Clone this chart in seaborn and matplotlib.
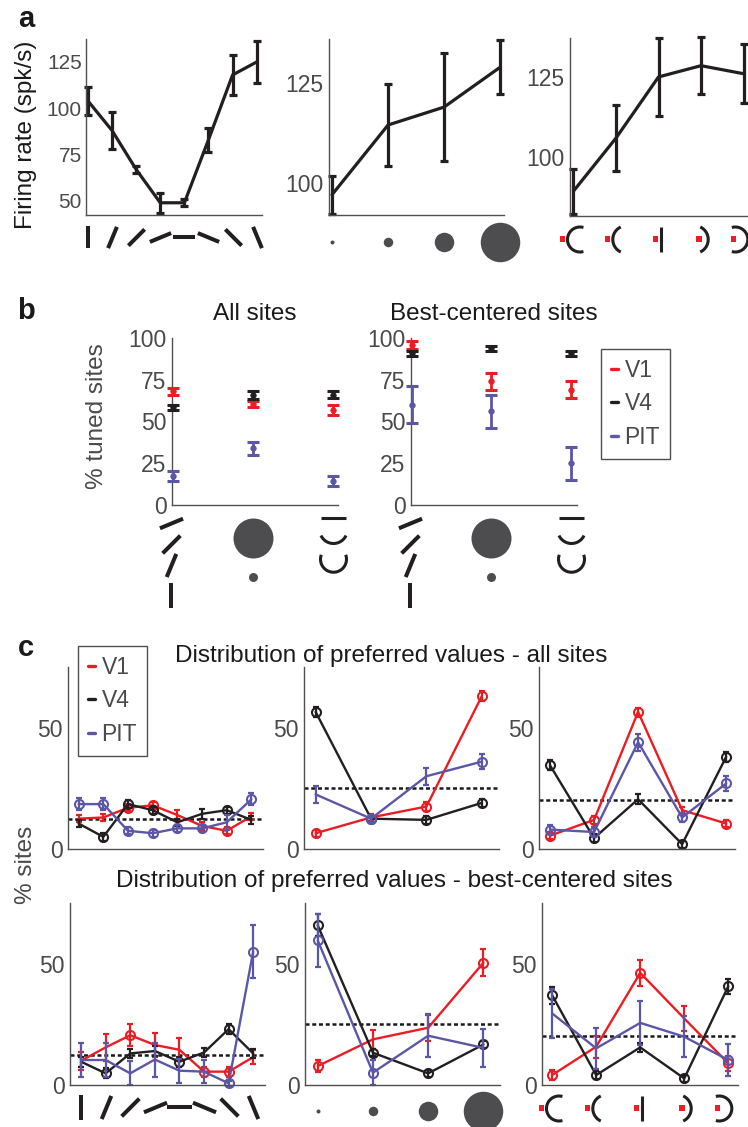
import numpy as np
import pandas as pd
import seaborn as sns
import matplotlib
matplotlib.use("Agg")
import matplotlib.pyplot as plt
from matplotlib.path import Path
from matplotlib.lines import Line2D
import matplotlib.transforms as mtrans

# ---------------- DATA ----------------
regions = ["V1", "V4", "PIT"]
region_colors = ["#ec1c24", "#231f20", "#5b56a6"]

# panel a : example site, firing rate (spk/s) +- error
a_orient_rate = [104, 88, 67, 49, 49, 83, 118, 125]
a_orient_err = [7.5, 10, 2, 5.5, 2, 6.5, 11, 11.5]
a_size_rate = [97, 114.5, 119, 129]
a_size_err = [4.8, 10.4, 13.6, 6.8]
a_curv_rate = [89.5, 106, 125, 128.5, 126]
a_curv_err = [7, 10.3, 12, 8.8, 9.2]

# panel b : % tuned sites for orientation, size, curvature
b_all = {"V1": [68, 60.5, 57], "V4": [58.5, 66, 66], "PIT": [17.5, 34, 14.5]}
b_all_err = {"V1": [2, 2, 3], "V4": [1.5, 2.5, 2], "PIT": [3, 4, 3]}
b_best = {"V1": [96, 74, 69], "V4": [91, 94, 91], "PIT": [60, 56, 25]}
b_best_err = {"V1": [2.5, 5, 5], "V4": [1.5, 1.5, 1.5], "PIT": [11, 10, 10]}

# panel c : distribution of preferred values (% sites), all sites
c_all_orient = {"V1": [12.5, 13, 17, 18, 14, 9.5, 7.5, 13.5],
                "V4": [10.5, 5, 18.5, 16, 11, 14.5, 16, 12],
                "PIT": [18.5, 18.5, 7.5, 6.5, 8.5, 8.5, 11, 20.5]}
c_all_orient_err = {"V1": [1.5, 1.5, 1.5, 1.5, 2, 1.5, 1.5, 1.5],
                    "V4": [1.5, 1.5, 1.5, 1.5, 1.5, 2, 1.5, 1.5],
                    "PIT": [2.5, 2.5, 1.5, 1.5, 1.5, 1.5, 3, 2.5]}
c_all_orient_sig = {"V1": [0, 0, 1, 1, 0, 0, 1, 0],
                    "V4": [0, 1, 1, 1, 0, 0, 1, 0],
                    "PIT": [1, 1, 1, 1, 1, 1, 0, 1]}
c_all_size = {"V1": [6.5, 13, 17.5, 63], "V4": [56.5, 12.5, 12, 19], "PIT": [22.5, 12.5, 30, 36]}
c_all_size_err = {"V1": [1.5, 1.5, 2, 2], "V4": [2, 1.5, 1.5, 1.5], "PIT": [3.5, 1.5, 3.5, 3]}
c_all_size_sig = {"V1": [1, 0, 1, 1], "V4": [1, 1, 1, 1], "PIT": [0, 1, 0, 1]}
c_all_curv = {"V1": [5.5, 12, 56.5, 16, 10.5], "V4": [34.5, 4.5, 20.5, 2, 38], "PIT": [8, 7, 44, 13, 27]}
c_all_curv_err = {"V1": [1.5, 1.5, 1.5, 1.5, 1.5], "V4": [2, 1.5, 2, 1.5, 2], "PIT": [2, 2, 3.5, 2, 3]}
c_all_curv_sig = {"V1": [1, 1, 1, 0, 1], "V4": [1, 1, 0, 1, 1], "PIT": [1, 1, 1, 1, 1]}

# panel c : best-centered sites
c_best_orient = {"V1": [10, 15.5, 20.5, 16.5, 14.5, 5.5, 5.5, 11.5],
                 "V4": [9.6, 4.8, 13, 14, 9.6, 13.4, 23, 13],
                 "PIT": [10.3, 10.3, 4.8, 10.5, 5.9, 5.5, 0.7, 55]}
c_best_orient_err = {"V1": [3.8, 5.5, 4.5, 4.8, 4.8, 2, 2, 3],
                     "V4": [2, 2, 2, 2, 2, 2, 2, 2],
                     "PIT": [7, 7, 5, 7, 5, 4.8, 1, 11]}
c_best_orient_sig = {"V1": [0, 0, 1, 0, 0, 1, 1, 0],
                     "V4": [0, 1, 0, 0, 1, 0, 1, 0],
                     "PIT": [0, 0, 0, 0, 0, 0, 1, 1]}
c_best_size = {"V1": [7.8, 18.8, 23.6, 50.4], "V4": [65.8, 13.3, 4.8, 16.7], "PIT": [59.6, 5.1, 20.3, 15.3]}
c_best_size_err = {"V1": [2.3, 3.8, 5.3, 5.5], "V4": [4.5, 1.5, 1.5, 1.5], "PIT": [11, 5, 8.8, 7.8]}
c_best_size_sig = {"V1": [1, 0, 0, 1], "V4": [1, 1, 1, 1], "PIT": [1, 1, 0, 0]}
c_best_curv = {"V1": [4.1, 15.8, 46.2, 27.4, 8.9], "V4": [37, 4.1, 15.5, 2.7, 40.7], "PIT": [29.5, 15.1, 25.6, 19.9, 10.3]}
c_best_curv_err = {"V1": [2, 4.5, 5.5, 5, 3], "V4": [3.5, 1.5, 2, 1.5, 3], "PIT": [10, 8.4, 9.2, 8.5, 6.7]}
c_best_curv_sig = {"V1": [1, 0, 1, 0, 1], "V4": [1, 1, 0, 1, 1], "PIT": [0, 0, 0, 0, 1]}

chance_levels = [12.5, 25, 20]   # % for 8, 4, 5 stimulus values

# stimulus icons (orientation angles in degrees, stimulus diameters in px)
orient_angles = [90, 67.5, 45, 22.5, 0, -22.5, -45, -67.5]
size_diams = [4, 9.5, 19.5, 39.5]

# ---------------- STYLE ----------------
sns.set_theme(style="white")
plt.rcParams["font.family"] = ["Liberation Sans", "DejaVu Sans"]
plt.rcParams["axes.unicode_minus"] = False

W, H = 748, 1127
fig = plt.figure(figsize=(W / 100, H / 100), dpi=100)
fig.patch.set_facecolor("white")
K = "#231f20"
GRAY = "#505050"
TXT = "#4a4a4a"
ICON_GRAY = "#4d4d4f"
TICK_FS = 16.5


def add_ax(l, t, r, b):
    ax = fig.add_axes([l / W, 1 - b / H, (r - l) / W, (b - t) / H])
    ax.set_facecolor("none")
    for s in ["top", "right"]:
        ax.spines[s].set_visible(False)
    for s in ["left", "bottom"]:
        ax.spines[s].set_color(GRAY)
        ax.spines[s].set_linewidth(1.0)
    ax.tick_params(direction="in", length=4, width=1, color=GRAY, labelcolor=TXT,
                   labelsize=TICK_FS, pad=4, labelbottom=False)
    return ax


def put(ax, x, dy, marker, size, **kw):
    tr = ax.get_xaxis_transform() + mtrans.ScaledTranslation(0, -dy / 100, fig.dpi_scale_trans)
    ax.plot([x], [0], ls="none", marker=marker, markersize=size * 0.72,
            transform=tr, clip_on=False, **kw)


def path_marker(pts_list, closed=False):
    verts, codes = [], []
    for p in pts_list:
        p = np.asarray(p, float)
        verts += [tuple(v) for v in p]
        codes += [Path.MOVETO] + [Path.LINETO] * (len(p) - 1)
        if closed:
            verts.append(tuple(p[0]))
            codes.append(Path.CLOSEPOLY)
    path = Path(np.array(verts), codes)
    return path, 2 * np.max(np.abs(path.vertices))


def bar_seg(angle, L, dx=0.0):
    t = np.deg2rad(angle)
    c, s = np.cos(t) * L / 2, np.sin(t) * L / 2
    return np.array([[-c + dx, -s], [c + dx, s]])


def arc_seg(R, theta_deg, bulge, n=40):
    th = np.deg2rad(theta_deg)
    phi = np.linspace(-th, th, n)
    if bulge == "left":
        x, y = -R * np.cos(phi), R * np.sin(phi)
    elif bulge == "right":
        x, y = R * np.cos(phi), R * np.sin(phi)
    else:  # cup opening upward
        x, y = R * np.sin(phi), -R * np.cos(phi)
    pts = np.column_stack([x, y])
    pts -= (pts.max(0) + pts.min(0)) / 2
    return pts


def orient_icons(ax, xs, dy, L):
    for x, ang in zip(xs, orient_angles):
        p, s = path_marker([bar_seg(ang, L)])
        put(ax, x, dy, p, s, mfc="none", mec=K, mew=2.9)


def size_icons(ax, xs, dy):
    for x, d in zip(xs, size_diams):
        put(ax, x, dy, "o", d, mfc=ICON_GRAY, mec="none", mew=0)


# curvature icons: (fixation dot dx, kind, bulge, R, theta, edge position)
CURV_ICONS = [(-10.3, "arc", "left", 12.5, 106, -6.0),
              (-8.5, "arc", "left", 13.8, 65, -3.7),
              (-3.7, "line", None, None, None, 2.0),
              (-2.0, "arc", "right", 13.8, 65, 6.7),
              (-10.3, "arc", "right", 12.5, 106, 3.3)]


def curv_icons(ax, xs, dy):
    for x, (ddx, kind, bulge, R, th, edge) in zip(xs, CURV_ICONS):
        if kind == "line":
            pts = np.array([[edge, -12.5], [edge, 12.5]])
        else:
            pts = arc_seg(R, th, bulge)
            if bulge == "left":
                pts[:, 0] += edge - pts[:, 0].min()
            else:
                pts[:, 0] += edge - pts[:, 0].max()
        p, s = path_marker([pts])
        put(ax, x, dy, p, s, mfc="none", mec=K, mew=2.2)
        sq = np.array([[ddx - 2.6, -2.6], [ddx + 2.6, -2.6], [ddx + 2.6, 2.6], [ddx - 2.6, 2.6]])
        p, s = path_marker([sq], closed=True)
        put(ax, x, dy, p, s, mfc="#ee1c25", mec="none", mew=0)


def tuning(ax, xs, rate, err):
    sns.lineplot(x=xs, y=rate, ax=ax, color=K, linewidth=2.3, legend=False)
    ax.errorbar(xs, rate, yerr=err, fmt="none", ecolor=K, elinewidth=2.3,
                capsize=2.9, capthick=2.3, clip_on=False)
    ax.set_xlabel("")
    ax.set_ylabel("")


# ---------------- PANEL a ----------------
x8 = np.arange(8)
x4 = np.arange(4)
x5 = np.arange(5)
x3 = np.arange(3)

a1 = add_ax(86, 39, 262, 215)
tuning(a1, x8, a_orient_rate, a_orient_err)
a1.set(xlim=(-0.08, 7.22), ylim=(42.4, 137.4), yticks=[50, 75, 100, 125], xticks=[1, 3, 5, 7])
a1.tick_params(labelsize=15, pad=3)
a1.set_ylabel("Firing rate (spk/s)", fontsize=17.5, color="k")
a1.yaxis.set_label_coords(-0.28, 0.455)
orient_icons(a1, x8, 22, 23)

a2 = add_ax(329, 39, 504, 215)
tuning(a2, x4, a_size_rate, a_size_err)
a2.set(xlim=(-0.054, 3.07), ylim=(91.9, 136.1), yticks=[100, 125], xticks=[1, 2, 3])
size_icons(a2, x4, 26.7)

a3 = add_ax(570, 38, 747, 216)
tuning(a3, x5, a_curv_rate, a_curv_err)
a3.set(xlim=(-0.08, 4.08), ylim=(81.8, 137.1), yticks=[100, 125], xticks=[1, 2, 3])
curv_icons(a3, x5, 23.3)

# ---------------- PANEL b ----------------
def tuned(ax, vals, errs, title):
    for i, (reg, col) in enumerate(zip(regions, region_colors)):
        ax.errorbar(x3, vals[reg], yerr=errs[reg], fmt="none", ecolor=col, elinewidth=2.0,
                    capsize=4.2, capthick=2.2, zorder=3 + i, clip_on=False)
        sns.scatterplot(x=x3, y=vals[reg], ax=ax, color=col, s=16, edgecolor=col,
                        linewidth=0.5, zorder=3.5 + i, legend=False, clip_on=False)
    ax.set_xlabel("")
    ax.set_ylabel("")
    ax.set(ylim=(0, 100), yticks=[0, 25, 50, 75, 100], xticks=[0, 1, 2])
    ax.set_title(title, fontsize=17.5, color="k", pad=13)
    # icons: orientation series, size series, curvature series
    for dy, ang in zip([18, 39, 60, 90], [22.5, 45, 67.5, 90]):
        p, s = path_marker([bar_seg(ang, 25, dx=-2)])
        put(ax, 0, dy, p, s, mfc="none", mec=K, mew=2.9)
    put(ax, 1, 33, "o", 40, mfc=ICON_GRAY, mec="none", mew=0)
    put(ax, 1, 72, "o", 9, mfc=ICON_GRAY, mec="none", mew=0)
    p, s = path_marker([np.array([[-12.5, 0], [12.5, 0]])])
    put(ax, 2, 13, p, s, mfc="none", mec=K, mew=2.2)
    p, s = path_marker([arc_seg(13.8, 65, "down")])
    put(ax, 2, 34, p, s, mfc="none", mec=K, mew=2.2)
    p, s = path_marker([arc_seg(13, 110, "down")])
    put(ax, 2, 58, p, s, mfc="none", mec=K, mew=2.2)


b1 = add_ax(172, 338, 338, 505)
tuned(b1, b_all, b_all_err, "All sites")
b1.set_xlim(-0.0125, 2.06)
b1.set_ylabel("% tuned sites", fontsize=17.5, color=TXT)
b1.yaxis.set_label_coords(-0.386, 0.533)

b2 = add_ax(411, 338, 577, 505)
tuned(b2, b_best, b_best_err, "Best-centered sites")
b2.set_xlim(-0.013, 2.08)


def legend_at(x_px, y_px):
    handles = [Line2D([], [], color=c, lw=2.4) for c in region_colors]
    leg = fig.legend(handles, regions, loc="upper left", bbox_to_anchor=(x_px / W, 1 - y_px / H),
                     bbox_transform=fig.transFigure, borderaxespad=0, fontsize=16.5,
                     handlelength=0.33, handletextpad=0.28, labelspacing=0.47, borderpad=0.42,
                     frameon=True, fancybox=False, edgecolor=GRAY, framealpha=1, labelcolor=TXT)
    leg.get_frame().set_linewidth(1.0)
    return leg


legend_at(601, 349)

# ---------------- PANEL c ----------------
def distribution(ax, xs, vals, errs, sigs, chance):
    ax.axhline(chance, color="k", lw=1.8, ls=(0, (1.6, 1.1)), zorder=1)
    for i, (reg, col) in enumerate(zip(regions, region_colors)):
        z = 2 + i * 0.1
        sns.lineplot(x=xs, y=vals[reg], ax=ax, color=col, linewidth=1.7, legend=False, zorder=z)
        ax.errorbar(xs, vals[reg], yerr=errs[reg], fmt="none", ecolor=col, elinewidth=1.6,
                    capsize=2.3, capthick=1.6, zorder=z, clip_on=False)
        m = np.array(sigs[reg], bool)
        ax.plot(np.asarray(xs)[m], np.asarray(vals[reg])[m], "o", mfc="none", mec=col,
                ms=6.5, mew=1.5, zorder=z + 0.05, clip_on=False)
    ax.set_xlabel("")
    ax.set_ylabel("")
    ax.set(ylim=(0, 75), yticks=[0, 50])


c1 = add_ax(68, 667, 263, 849)
distribution(c1, x8, c_all_orient, c_all_orient_err, c_all_orient_sig, chance_levels[0])
c1.set(xlim=(-0.43, 7.47), xticks=[0, 2.222, 4.444, 6.667])
c2 = add_ax(304, 667, 499, 849)
distribution(c2, x4, c_all_size, c_all_size_err, c_all_size_sig, chance_levels[1])
c2.set(xlim=(-0.21, 3.31), xticks=x4)
c3 = add_ax(539, 667, 735, 849)
distribution(c3, x5, c_all_curv, c_all_curv_err, c_all_curv_sig, chance_levels[2])
c3.set(xlim=(-0.25, 4.2), xticks=x5)

c4 = add_ax(70, 903, 265, 1085)
distribution(c4, x8, c_best_orient, c_best_orient_err, c_best_orient_sig, chance_levels[0])
c4.set(xlim=(-0.45, 7.48), xticks=[0, 2.222, 4.444, 6.667])
orient_icons(c4, x8, 22, 25)
c5 = add_ax(305, 903, 500, 1085)
distribution(c5, x4, c_best_size, c_best_size_err, c_best_size_sig, chance_levels[1])
c5.set(xlim=(-0.23, 3.3), xticks=x4)
size_icons(c5, x4, 25.7)
c6 = add_ax(542, 903, 738, 1085)
distribution(c6, x5, c_best_curv, c_best_curv_err, c_best_curv_sig, chance_levels[2])
c6.set(xlim=(-0.23, 4.22), xticks=x5)
curv_icons(c6, x5, 23)

legend_at(78, 646)

fig.text(391 / W, 1 - 662 / H, "Distribution of preferred values - all sites",
         ha="center", va="baseline", fontsize=17.5, color="k")
fig.text(394 / W, 1 - 887 / H, "Distribution of preferred values - best-centered sites",
         ha="center", va="baseline", fontsize=17.5, color="k")
fig.text(26 / W, 1 - 865 / H, "% sites", rotation=90, ha="center", va="center",
         fontsize=17.5, color=TXT)

# panel letters
for lab, (x, y) in {"a": (18, 27), "b": (17, 319), "c": (18, 656)}.items():
    fig.text(x / W, 1 - y / H, lab, fontsize=21, fontweight="bold", color="k", va="baseline")

fig.savefig("out.png", dpi=100, facecolor="white")
